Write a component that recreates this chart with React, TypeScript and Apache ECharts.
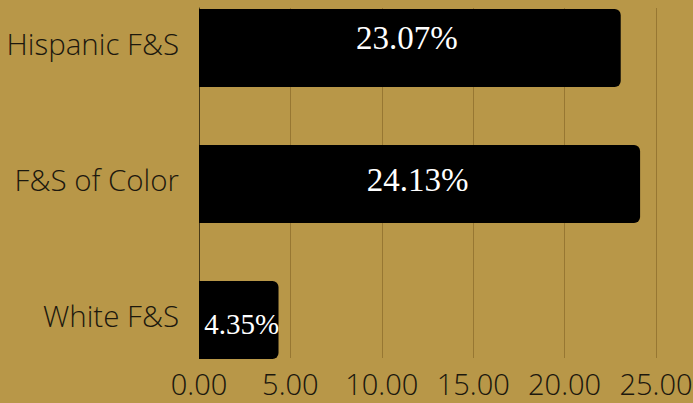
import React, { useEffect, useRef } from "react";
import * as echarts from "echarts";

const categories = ["Hispanic F&S", "F&S of Color", "White F&S"];
const values = [23.07, 24.13, 4.35];
const barLabels = ["23.07%", "24.13%", "4.35%"];
const xTicks = [0, 5, 10, 15, 20, 25];

const labelOffsets: [number, number][] = [
  [-3, -10],
  [-2, -4],
  [3, 4],
];
const labelSizes = [33, 33, 29];

export default function App() {
  const ref = useRef<HTMLDivElement>(null);
  useEffect(() => {
    if (!ref.current) return;
    const chart = echarts.init(ref.current, undefined, { renderer: "svg" });
    const textColor = "#1c180e";
    const sans = "'Open Sans Light', 'Open Sans'";
    chart.setOption({
      animation: false,
      backgroundColor: "#B89748",
      grid: [
        { left: 199, top: -20, width: 457, height: 408, containLabel: false, outerBoundsMode: "none" },
        { left: 199, top: 8, width: 457, height: 350, containLabel: false, outerBoundsMode: "none" },
      ],
      xAxis: [
        {
          gridIndex: 0,
          type: "value",
          min: 0,
          max: 25,
          interval: 5,
          show: false,
        },
        {
          gridIndex: 1,
          type: "value",
          min: xTicks[0],
          max: xTicks[xTicks.length - 1],
          interval: 5,
          axisLine: { show: false },
          axisTick: { show: false },
          splitLine: { show: true, lineStyle: { color: "#977732", width: 1 } },
          axisLabel: {
            margin: 11,
            color: textColor,
            fontFamily: sans,
            fontWeight: 300,
            fontSize: 29,
            formatter: (v: number) => v.toFixed(2),
          },
        },
      ],
      yAxis: [
        {
          gridIndex: 0,
          type: "category",
          data: categories,
          inverse: true,
          axisLine: { show: false },
          axisTick: { show: false },
          splitLine: { show: false },
          axisLabel: {
            margin: 20,
            formatter: "{c|{value}}",
            rich: {
              c: {
                color: textColor,
                fontFamily: sans,
                fontWeight: 300,
                fontSize: 29.5,
                padding: [0, 0, 9, 0],
              },
            },
          },
        },
        {
          gridIndex: 1,
          type: "value",
          min: 0,
          max: 1,
          axisLine: { show: true, lineStyle: { color: "#4a3b17", width: 1 } },
          axisTick: { show: false },
          axisLabel: { show: false },
          splitLine: { show: false },
        },
      ],
      series: [
        {
          type: "bar",
          xAxisIndex: 0,
          yAxisIndex: 0,
          barWidth: 78,
          itemStyle: { color: "#000000", borderRadius: [0, 6, 6, 0] },
          data: values.map((v, i) => ({
            value: v,
            label: {
              show: true,
              position: "inside",
              formatter: barLabels[i],
              color: "#ffffff",
              fontFamily: "Liberation Serif",
              fontSize: labelSizes[i],
              offset: labelOffsets[i],
            },
          })),
        },
      ],
    });
    return () => chart.dispose();
  }, []);
  return (
    <div
      ref={ref}
      style={{ position: "fixed", left: 0, top: 0, width: 693, height: 403 }}
    />
  );
}
